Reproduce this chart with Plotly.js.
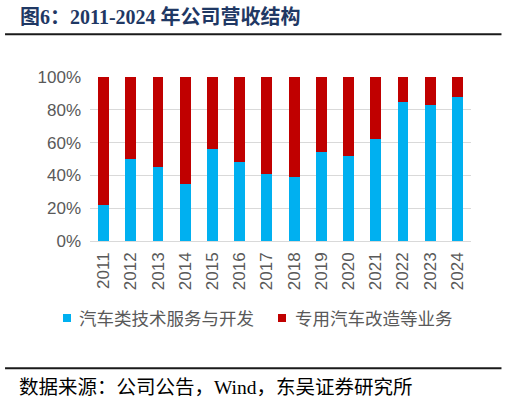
<!DOCTYPE html>
<html>
<head>
<meta charset="utf-8">
<script src="https://cdn.plot.ly/plotly-3.0.1.min.js"></script>
<style>
  html, body { margin: 0; padding: 0; background: #fff; }
  #chart { width: 510px; height: 402px; }
</style>
</head>
<body>
<div id="chart"></div>
<script>
// 2011-2024 revenue structure, share in %
var years = ['2011', '2012', '2013', '2014', '2015', '2016', '2017',
             '2018', '2019', '2020', '2021', '2022', '2023', '2024'];
var techShare = [22, 50, 45, 35, 56, 48, 41, 39, 54, 52, 62, 85, 83, 88];
var modShare = techShare.map(function (v) { return 100 - v; });

var seriesNames = ['汽车类技术服务与开发', '专用汽车改造等业务'];
var seriesColors = ['#00B0F0', '#C00000'];

var data = [techShare, modShare].map(function (vals, i) {
  return {
    type: 'bar',
    name: seriesNames[i],
    x: years,
    y: vals,
    marker: { color: seriesColors[i] },
    hoverinfo: 'x+y+name'
  };
});

var cjk = '"Noto Sans CJK SC", "Liberation Sans", Arial, sans-serif';
var serif = '"Liberation Serif", "Noto Sans CJK SC", serif';
var sans = '"Liberation Sans", Arial, sans-serif';

// legend is drawn by hand: small squares + labels, like the reference
var legX = [[-0.0709, -0.0499, -0.0341], [0.4934, 0.5144, 0.5328]];
var legShapes = seriesNames.map(function (n, i) {
  return { type: 'rect', xref: 'paper', yref: 'paper',
    x0: legX[i][0], x1: legX[i][1], y0: -0.494, y1: -0.445,
    fillcolor: seriesColors[i], line: { width: 0 } };
});
var legLabels = seriesNames.map(function (n, i) {
  return { text: n, xref: 'paper', yref: 'paper', x: legX[i][2], y: -0.4695,
    xanchor: 'left', yanchor: 'middle', showarrow: false,
    font: { family: cjk, size: 17.5, color: '#595959' } };
});

var layout = {
  width: 510,
  height: 402,
  margin: { l: 90, r: 39, t: 77, b: 161 },
  paper_bgcolor: '#fff',
  plot_bgcolor: '#fff',
  barmode: 'stack',
  bargap: 0.6,
  showlegend: false,
  xaxis: {
    type: 'category',
    tickangle: -90,
    tickfont: { family: sans, size: 17, color: '#595959' },
    showline: false,
    ticks: '',
    showgrid: false,
    ticklabelstandoff: 7
  },
  yaxis: {
    range: [0, 100],
    dtick: 20,
    ticksuffix: '%',
    tickfont: { family: sans, size: 17, color: '#595959' },
    gridcolor: '#d9d9d9',
    gridwidth: 1,
    zeroline: true,
    zerolinecolor: '#d9d9d9',
    showline: false,
    ticks: '',
    ticklabelstandoff: 8
  },
  shapes: [
    { type: 'line', xref: 'paper', yref: 'paper', x0: -0.223, x1: 1.08, y0: 1.26, y1: 1.26,
      line: { color: '#1a1a1a', width: 2 } },
    { type: 'line', xref: 'paper', yref: 'paper', x0: -0.223, x1: 1.08, y0: -0.776, y1: -0.776,
      line: { color: '#1a1a1a', width: 2 } }
  ].concat(legShapes),
  annotations: [
    { text: '<b>图6：2011-2024 年公司营收结构</b>', xref: 'paper', yref: 'paper',
      x: -0.189, y: 1.366, xanchor: 'left', yanchor: 'middle', showarrow: false,
      font: { family: serif, size: 20, color: '#1F3864' } },
    { text: '数据来源：公司公告，Wind，东吴证券研究所', xref: 'paper', yref: 'paper',
      x: -0.192, y: -0.896, xanchor: 'left', yanchor: 'middle', showarrow: false,
      font: { family: serif, size: 19.5, color: '#000' } }
  ].concat(legLabels)
};

Plotly.newPlot('chart', data, layout, { displayModeBar: false, staticPlot: true });
</script>
</body>
</html>
